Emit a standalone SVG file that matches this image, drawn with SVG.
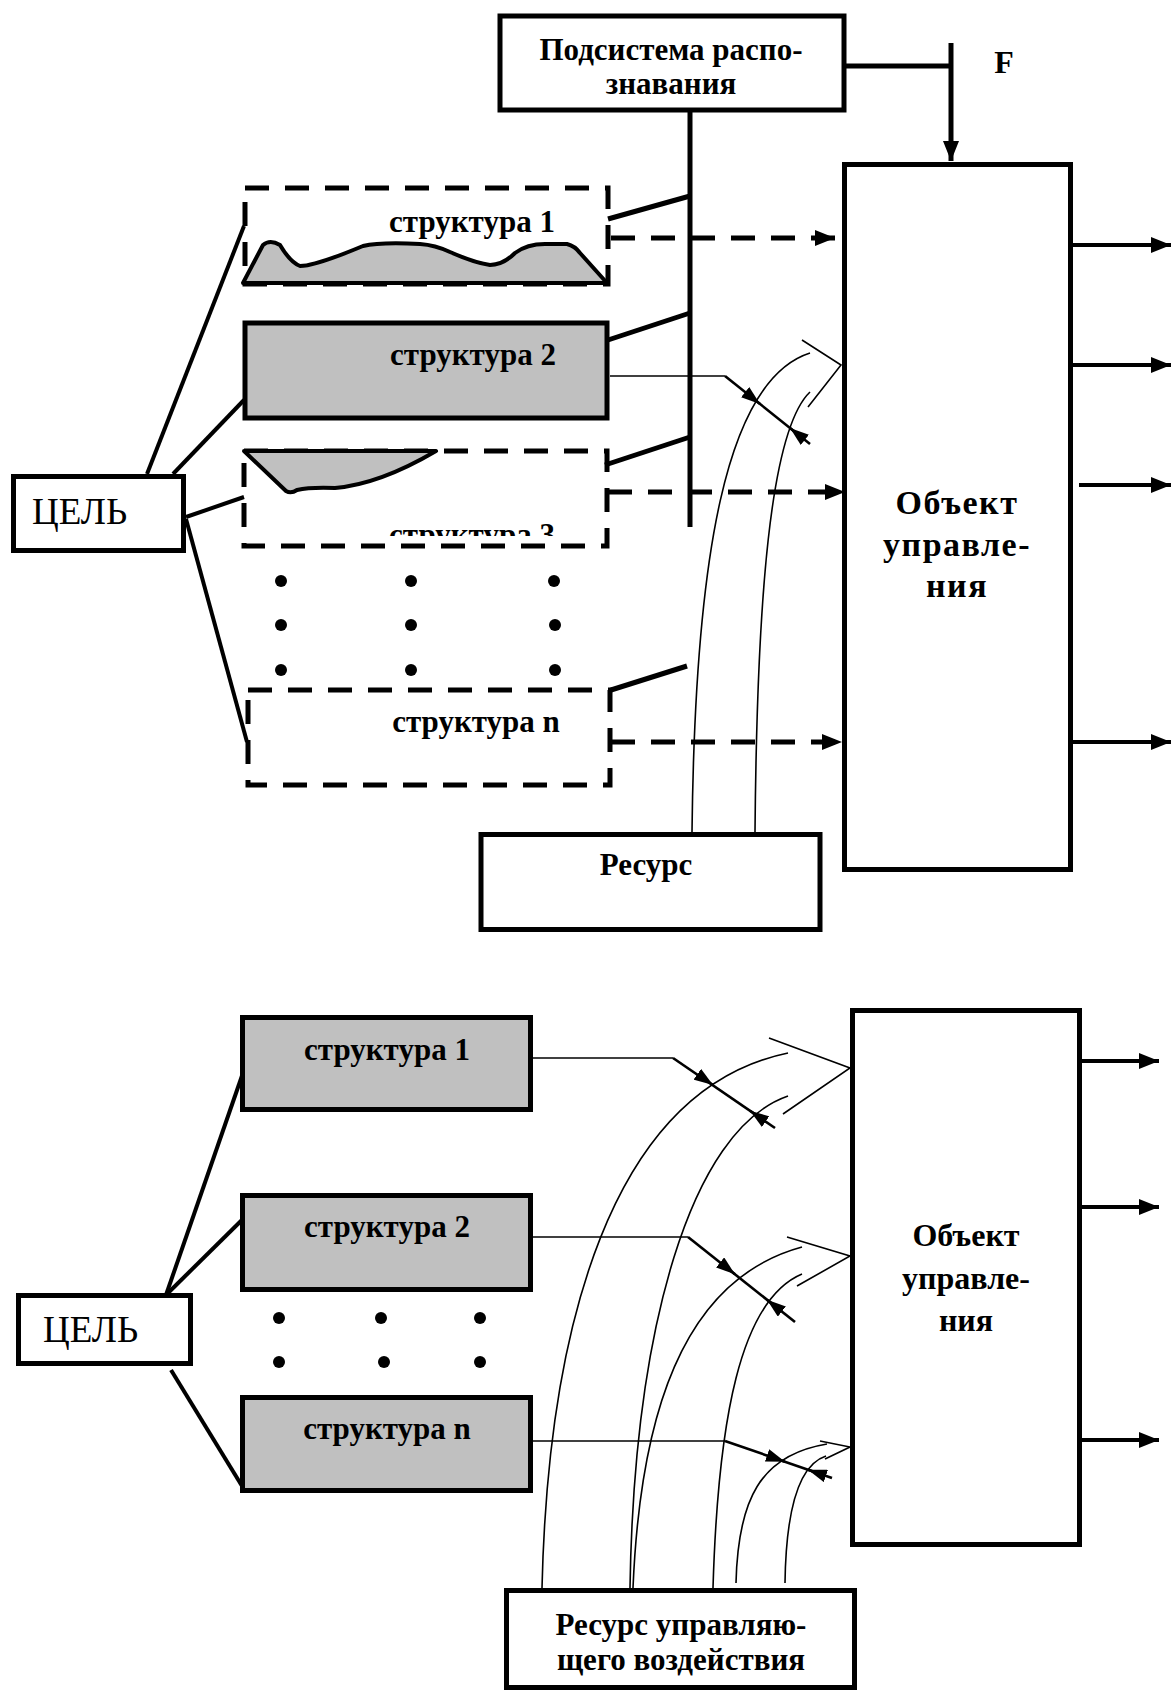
<svg xmlns="http://www.w3.org/2000/svg" width="1176" height="1697" viewBox="0 0 1176 1697">
<style>
.box{fill:#fff;stroke:#000;stroke-width:5}
.gray{fill:#c0c0c0;stroke:#000;stroke-width:5}
.dbox{fill:none;stroke:#000;stroke-width:5;stroke-dasharray:24 16}
.blob{fill:#c0c0c0;stroke:#000;stroke-width:4;stroke-linejoin:round}
.thick{fill:none;stroke:#000;stroke-width:4}
.bus{fill:none;stroke:#000;stroke-width:5}
.dline{fill:none;stroke:#000;stroke-width:5;stroke-dasharray:24 16}
.thin{fill:none;stroke:#000;stroke-width:1.6}
.med{fill:none;stroke:#000;stroke-width:2.6}
.t{font-family:"Liberation Serif","Times New Roman",serif;font-weight:bold;fill:#000;text-anchor:middle}
.r{font-family:"Liberation Serif","Times New Roman",serif;font-weight:normal;fill:#000}
</style>
<defs>
<marker id="big" markerUnits="userSpaceOnUse" markerWidth="20" markerHeight="16" refX="20" refY="8" orient="auto"><path d="M0,0 L20,8 L0,16 z" fill="#000"/></marker>
<marker id="sm" markerUnits="userSpaceOnUse" markerWidth="19" markerHeight="13" refX="19" refY="6.5" orient="auto"><path d="M0,0 L19,6.5 L0,13 z" fill="#000"/></marker>
<clipPath id="c3"><rect x="240" y="440" width="380" height="96"/></clipPath>
</defs>

<g id="connectors">
  <!-- upper -->
  <line class="bus" x1="690" y1="110" x2="690" y2="527"/>
  <line class="bus" x1="844" y1="66" x2="951" y2="66"/>
  <line class="bus" x1="951" y1="43" x2="951" y2="161" marker-end="url(#big)"/>
  <line class="thick" x1="147" y1="474" x2="244" y2="226"/>
  <line class="thick" x1="173" y1="474" x2="244" y2="400"/>
  <line class="thick" x1="186" y1="517" x2="244" y2="497"/>
  <line class="thick" x1="186" y1="519" x2="247" y2="742"/>
  <line class="bus" x1="608" y1="219" x2="690" y2="196"/>
  <line class="bus" x1="608" y1="340" x2="690" y2="313"/>
  <line class="bus" x1="605" y1="465" x2="690" y2="437"/>
  <line class="bus" x1="611" y1="690" x2="687" y2="666"/>
  <line class="dline" x1="611" y1="238" x2="835" y2="238" marker-end="url(#big)"/>
  <line class="dline" x1="608" y1="492" x2="845" y2="492" marker-end="url(#big)"/>
  <line class="dline" x1="611" y1="742" x2="842" y2="742" marker-end="url(#big)"/>
  <line class="thin" x1="610" y1="376" x2="725" y2="376"/>
  <line class="med" x1="725" y1="376" x2="810" y2="444"/>
  <path class="med" d="M752.2,397.75 L760,404" marker-end="url(#sm)"/>
  <path class="med" d="M797.8,434.25 L790,428" marker-end="url(#sm)"/>
  <path class="thin" d="M692,832 C695,560 725,380 810,353"/>
  <path class="thin" d="M755,832 C757,600 770,430 810,392"/>
  <polyline class="thin" points="802,340 841,365 808,407"/>
  <line class="thick" x1="1073" y1="245" x2="1171" y2="245" marker-end="url(#big)"/>
  <line class="thick" x1="1073" y1="365" x2="1171" y2="365" marker-end="url(#big)"/>
  <line class="thick" x1="1079" y1="485" x2="1171" y2="485" marker-end="url(#big)"/>
  <line class="thick" x1="1073" y1="742" x2="1171" y2="742" marker-end="url(#big)"/>

  <!-- lower -->
  <line class="thick" x1="166" y1="1295" x2="244" y2="1070"/>
  <line class="thick" x1="166" y1="1295" x2="247" y2="1215"/>
  <line class="thick" x1="171" y1="1370" x2="242" y2="1486"/>
  <line class="thin" x1="533" y1="1058" x2="673" y2="1058"/>
  <line class="med" x1="673" y1="1058" x2="775" y2="1128"/>
  <path class="med" d="M704.75,1079.3 L713,1085" marker-end="url(#sm)"/>
  <path class="med" d="M758.25,1116.5 L750,1110.8" marker-end="url(#sm)"/>
  <line class="thin" x1="533" y1="1237" x2="688" y2="1237"/>
  <line class="med" x1="688" y1="1237" x2="795" y2="1322"/>
  <path class="med" d="M727.2,1268.1 L735,1274.3" marker-end="url(#sm)"/>
  <path class="med" d="M774.8,1305.9 L767,1299.7" marker-end="url(#sm)"/>
  <line class="thin" x1="533" y1="1441" x2="725" y2="1441"/>
  <line class="med" x1="725" y1="1441" x2="832" y2="1478"/>
  <path class="med" d="M775.55,1458.4 L785,1461.7" marker-end="url(#sm)"/>
  <path class="med" d="M817.45,1473 L808,1469.7" marker-end="url(#sm)"/>
  <path class="thin" d="M542,1588 C548,1330 610,1090 788,1053"/>
  <path class="thin" d="M630,1588 C634,1330 690,1130 788,1096"/>
  <path class="thin" d="M633,1588 C640,1420 680,1280 802,1247"/>
  <path class="thin" d="M713,1588 C718,1420 740,1300 802,1274"/>
  <path class="thin" d="M736,1583 C738,1500 760,1455 827,1444"/>
  <path class="thin" d="M785,1583 C786,1510 798,1465 826,1456"/>
  <polyline class="thin" points="769,1038 850,1068 783,1114"/>
  <polyline class="thin" points="787,1237 850,1256 797,1286"/>
  <polyline class="thin" points="820,1441 850,1447 825,1459"/>
  <line class="thick" x1="1082" y1="1061" x2="1159" y2="1061" marker-end="url(#big)"/>
  <line class="thick" x1="1082" y1="1207" x2="1159" y2="1207" marker-end="url(#big)"/>
  <line class="thick" x1="1082" y1="1440" x2="1159" y2="1440" marker-end="url(#big)"/>
</g>

<!-- upper nodes -->
<g id="podsistema">
  <rect class="box" x="500" y="16" width="344" height="94"/>
  <text class="t" x="671" y="60" font-size="31">Подсистема распо-</text>
  <text class="t" x="671" y="94" font-size="31">знавания</text>
</g>
<g id="F-label"><text class="t" x="1004" y="73" font-size="32">F</text></g>
<g id="object-top">
  <rect class="box" x="844.5" y="164.5" width="226" height="705"/>
  <text class="t" x="957" y="514" font-size="34" letter-spacing="1.5">Объект</text>
  <text class="t" x="957" y="556" font-size="34" letter-spacing="1.5">управле-</text>
  <text class="t" x="957" y="597" font-size="34" letter-spacing="1.5">ния</text>
</g>
<g id="struct1-top">
  <rect class="dbox" x="245" y="188" width="363" height="96"/>
  <path class="blob" d="M243,283 L263,245 Q270,239 280,245 Q290,262 300,266 Q315,266 363,246 Q380,242 420,244 Q435,245 450,252 Q475,263 490,265 Q503,265 515,253 Q527,244 545,244 L567,244 Q575,246 580,253 L607,283 Z"/>
  <text class="t" x="472" y="232" font-size="31">структура 1</text>
</g>
<g id="struct2-top">
  <rect class="gray" x="245" y="323" width="362" height="95"/>
  <text class="t" x="473" y="365" font-size="31">структура 2</text>
</g>
<g id="struct3-top">
  <rect class="dbox" x="244" y="451" width="363" height="95"/>
  <path class="blob" d="M244,451 L286,491 Q291,494 297,490 Q310,487 335,488 Q380,484 436,451 Z"/>
  <text class="t" x="472" y="545" font-size="31" clip-path="url(#c3)">структура 3</text>
</g>
<g id="dots-top">
  <circle cx="281" cy="581" r="6"/><circle cx="411" cy="581" r="6"/><circle cx="554" cy="581" r="6"/>
  <circle cx="281" cy="625" r="6"/><circle cx="411" cy="625" r="6"/><circle cx="555" cy="625" r="6"/>
  <circle cx="281" cy="670" r="6"/><circle cx="411" cy="670" r="6"/><circle cx="555" cy="670" r="6"/>
</g>
<g id="structn-top">
  <rect class="dbox" x="248" y="690" width="362" height="95"/>
  <text class="t" x="476" y="732" font-size="31">структура n</text>
</g>
<g id="resurs-top">
  <rect class="box" x="481" y="834.5" width="339" height="95"/>
  <text class="t" x="646" y="875" font-size="31">Ресурс</text>
</g>
<g id="cel-top">
  <rect class="box" x="13.5" y="476.5" width="170" height="74"/>
  <text class="r" x="32" y="524" font-size="37">ЦЕЛЬ</text>
</g>

<!-- lower nodes -->
<g id="cel-bottom">
  <rect class="box" x="18.5" y="1295.5" width="172" height="68"/>
  <text class="r" x="43" y="1342" font-size="37">ЦЕЛЬ</text>
</g>
<g id="struct1-bottom">
  <rect class="gray" x="242.5" y="1017.5" width="288" height="92"/>
  <text class="t" x="387" y="1060" font-size="31">структура 1</text>
</g>
<g id="struct2-bottom">
  <rect class="gray" x="242.5" y="1195.5" width="288" height="94"/>
  <text class="t" x="387" y="1237" font-size="31">структура 2</text>
</g>
<g id="dots-bottom">
  <circle cx="279" cy="1318" r="6"/><circle cx="381" cy="1318" r="6"/><circle cx="480" cy="1318" r="6"/>
  <circle cx="279" cy="1362" r="6"/><circle cx="384" cy="1362" r="6"/><circle cx="480" cy="1362" r="6"/>
</g>
<g id="structn-bottom">
  <rect class="gray" x="242.5" y="1397.5" width="288" height="93"/>
  <text class="t" x="387" y="1439" font-size="31">структура n</text>
</g>
<g id="object-bottom">
  <rect class="box" x="852.5" y="1010.5" width="227" height="534"/>
  <text class="t" x="966" y="1246" font-size="32">Объект</text>
  <text class="t" x="966" y="1289" font-size="32">управле-</text>
  <text class="t" x="966" y="1331" font-size="32">ния</text>
</g>
<g id="resurs-bottom">
  <rect class="box" x="506.5" y="1590.5" width="348" height="97"/>
  <text class="t" x="681" y="1635" font-size="31">Ресурс управляю-</text>
  <text class="t" x="681" y="1670" font-size="31">щего воздействия</text>
</g>
</svg>
